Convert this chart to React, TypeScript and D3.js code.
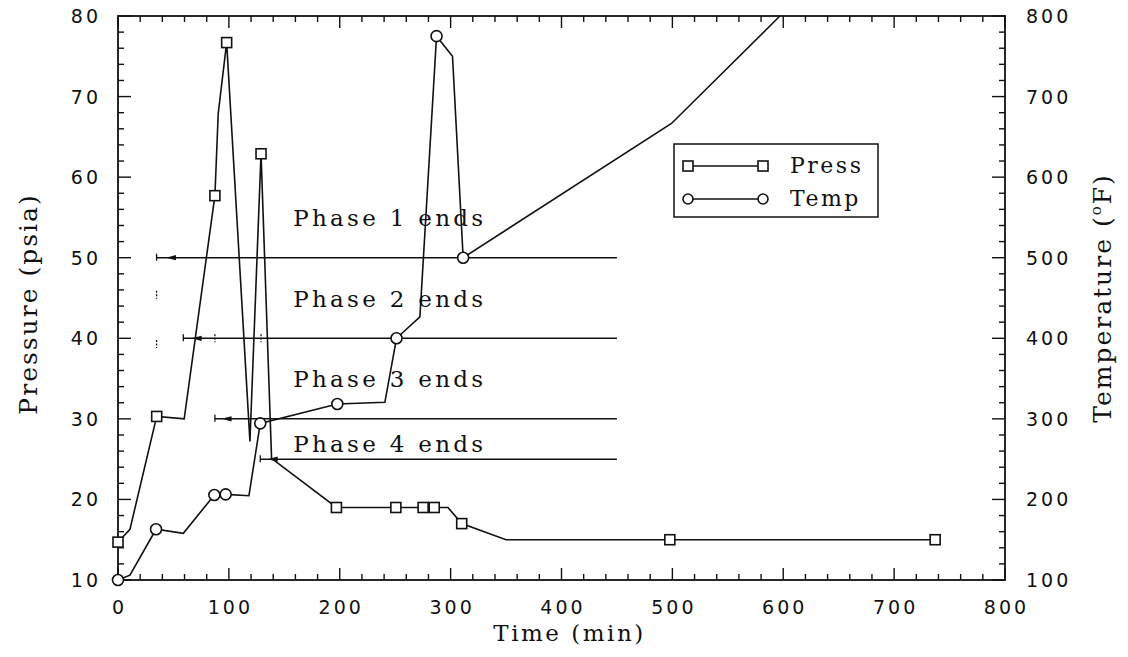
import React from "react";
import * as d3 from "d3";

// Time axis (min)
const timeTicks = [0, 100, 200, 300, 400, 500, 600, 700, 800];
// Left axis: pressure (psia)
const pressTicks = [10, 20, 30, 40, 50, 60, 70, 80];
// Right axis: temperature (°F)
const tempTicks = [100, 200, 300, 400, 500, 600, 700, 800];

// Pressure history
const pressTime = [0, 10.8, 34.9, 59.7, 87.4, 90.4, 98, 119, 129, 138.5, 197, 250.6, 275.2, 285.2, 297.6, 310, 350, 497.7, 737];
const pressValue = [14.7, 16.3, 30.3, 30.0, 57.7, 67.9, 76.7, 27.2, 62.9, 25.1, 19.0, 19.0, 19.0, 19.0, 19.0, 17.0, 15.0, 15.0, 15.0];
const pressMarked = [1, 0, 1, 0, 1, 0, 1, 0, 1, 0, 1, 1, 1, 1, 0, 1, 0, 1, 1];

// Temperature history
const tempTime = [0, 10.8, 34.3, 58.9, 86.9, 97.1, 118.1, 128.3, 197.8, 240.7, 251.2, 272.3, 287.3, 301.7, 311.3, 499.2, 597];
const tempValue = [100, 106, 163, 158, 205.5, 206.3, 204.6, 294.4, 318.4, 320.5, 400, 426.7, 775, 750, 500, 666.6, 800];
const tempMarked = [1, 0, 1, 0, 1, 1, 0, 1, 1, 0, 1, 0, 1, 0, 1, 0, 0];

// Phase end markers
const phaseLabels = ["Phase 1 ends", "Phase 2 ends", "Phase 3 ends", "Phase 4 ends"];
const phasePress = [50, 40, 30, 25];
const phaseStart = [34.8, 58.9, 87.4, 128.3];
const phaseArrowTip = [43.3, 66.4, 93.4, 135];
const phaseEnd = 450;
const phaseLabelPress = [53.9, 43.9, 34.0, 25.9];
const phaseLabelTime = 158;

// Small residual guide marks (time, pressure)
const guideMarkTime = [34.8, 34.8, 87.4, 129];
const guideMarkPress = [45.4, 39.3, 40, 40];

const W = 1128;
const H = 657;
const L = 118, R = 1005, T = 16, B = 580;

const x = d3.scaleLinear().domain([0, 800]).range([L, R]);
const yP = d3.scaleLinear().domain([10, 80]).range([B, T]);
const yT = d3.scaleLinear().domain([100, 800]).range([B, T]);

const serif = "'DejaVu Serif', serif";
const sans = "'DejaVu Sans', sans-serif";

export default function App() {
  const pressLine = d3.line<number>().x((_, i) => x(pressTime[i])).y((v) => yP(v));
  const tempLine = d3.line<number>().x((_, i) => x(tempTime[i])).y((v) => yT(v));

  const minorX = d3.range(0, 801, 20);
  const minorY = d3.range(10, 80.001, 2);
  const stroke = "#111";

  return (
    <svg width={W} height={H} style={{ position: "absolute", left: 0, top: 0, background: "#fff" }}>
      {/* frame */}
      <rect x={L} y={T} width={R - L} height={B - T} fill="none" stroke={stroke} strokeWidth={1.8} />

      {/* bottom and top ticks */}
      {minorX.map((t) => {
        const major = t % 100 === 0;
        const len = major ? 12 : 6;
        return (
          <g key={"xt" + t}>
            <line x1={x(t)} x2={x(t)} y1={B} y2={B - len} stroke={stroke} strokeWidth={1.4} />
            <line x1={x(t)} x2={x(t)} y1={T} y2={T + len} stroke={stroke} strokeWidth={1.4} />
          </g>
        );
      })}
      {/* left and right ticks */}
      {minorY.map((p) => {
        const major = Math.abs(p % 10) < 1e-6;
        const len = major ? 13 : 6;
        return (
          <g key={"yt" + p}>
            <line x1={L} x2={L + len} y1={yP(p)} y2={yP(p)} stroke={stroke} strokeWidth={1.4} />
            <line x1={R} x2={R - len} y1={yP(p)} y2={yP(p)} stroke={stroke} strokeWidth={1.4} />
          </g>
        );
      })}

      {/* tick labels */}
      {timeTicks.map((t) => (
        <text key={"xl" + t} x={x(t) + 1.5} y={614} textAnchor="middle" fontFamily={sans} fontSize={19} letterSpacing={3} fill={stroke}>
          {t}
        </text>
      ))}
      {pressTicks.map((p) => (
        <text key={"pl" + p} x={101} y={yP(p) + 7} textAnchor="end" fontFamily={sans} fontSize={19} letterSpacing={3} fill={stroke}>
          {p}
        </text>
      ))}
      {tempTicks.map((v) => (
        <text key={"tl" + v} x={1026} y={yT(v) + 7} textAnchor="start" fontFamily={sans} fontSize={19} letterSpacing={3} fill={stroke}>
          {v}
        </text>
      ))}

      {/* axis titles */}
      <text x={(L + R) / 2 + 8} y={641} textAnchor="middle" fontFamily={serif} fontSize={23} letterSpacing={2.5} fill={stroke}>
        Time (min)
      </text>
      <text transform={`translate(37,${(T + B) / 2 + 6}) rotate(-90)`} textAnchor="middle" fontFamily={serif} fontSize={25} letterSpacing={2} fill={stroke}>
        Pressure (psia)
      </text>
      <text transform={`translate(1111,${(T + B) / 2}) rotate(-90)`} textAnchor="middle" fontFamily={serif} fontSize={25} letterSpacing={2} fill={stroke}>
        Temperature (<tspan fontSize={15} dy={-10}>o</tspan><tspan dy={10}>F)</tspan>
      </text>

      {/* phase end lines */}
      {phaseLabels.map((label, i) => {
        const yy = yP(phasePress[i]);
        const tip = x(phaseArrowTip[i]);
        return (
          <g key={"ph" + i}>
            <line x1={x(phaseStart[i])} x2={x(phaseEnd)} y1={yy} y2={yy} stroke={stroke} strokeWidth={1.5} />
            <line x1={x(phaseStart[i])} x2={x(phaseStart[i])} y1={yy - 4} y2={yy + 3} stroke={stroke} strokeWidth={1.3} />
            <path d={`M${tip},${yy} L${tip + 10},${yy - 2.6} L${tip + 10},${yy + 2.6} Z`} fill={stroke} />
            <text x={x(phaseLabelTime)} y={yP(phaseLabelPress[i])} fontFamily={serif} fontSize={23} letterSpacing={3.3} fill={stroke}>
              {label}
            </text>
          </g>
        );
      })}
      {guideMarkTime.map((t, i) => (
        <line key={"gm" + i} x1={x(t)} x2={x(t)} y1={yP(guideMarkPress[i]) - 4} y2={yP(guideMarkPress[i]) + 4} stroke={stroke} strokeWidth={1.3} strokeDasharray="2,1.5" />
      ))}

      {/* series lines */}
      <path d={pressLine(pressValue) || ""} fill="none" stroke={stroke} strokeWidth={1.6} />
      <path d={tempLine(tempValue) || ""} fill="none" stroke={stroke} strokeWidth={1.6} />

      {/* markers */}
      {pressValue.map((v, i) =>
        pressMarked[i] ? (
          <rect key={"pm" + i} x={x(pressTime[i]) - 5} y={yP(v) - 5} width={10} height={10} fill="#fff" stroke={stroke} strokeWidth={1.6} />
        ) : null
      )}
      {tempValue.map((v, i) =>
        tempMarked[i] ? (
          <circle key={"tm" + i} cx={x(tempTime[i])} cy={yT(v)} r={5.5} fill="#fff" stroke={stroke} strokeWidth={1.6} />
        ) : null
      )}

      {/* legend */}
      <g>
        <rect x={674} y={144} width={204} height={73} fill="#fff" stroke={stroke} strokeWidth={1.5} />
        <line x1={688} x2={763} y1={166} y2={166} stroke={stroke} strokeWidth={1.5} />
        <rect x={683} y={161} width={10} height={10} fill="#fff" stroke={stroke} strokeWidth={1.6} />
        <rect x={758} y={161} width={10} height={10} fill="#fff" stroke={stroke} strokeWidth={1.6} />
        <text x={790} y={173} fontFamily={serif} fontSize={22} letterSpacing={2.5} fill={stroke}>Press</text>
        <line x1={688} x2={763} y1={199} y2={199} stroke={stroke} strokeWidth={1.5} />
        <circle cx={688} cy={199} r={5} fill="#fff" stroke={stroke} strokeWidth={1.6} />
        <circle cx={763} cy={199} r={5} fill="#fff" stroke={stroke} strokeWidth={1.6} />
        <text x={790} y={206} fontFamily={serif} fontSize={22} letterSpacing={2.5} fill={stroke}>Temp</text>
      </g>
    </svg>
  );
}
